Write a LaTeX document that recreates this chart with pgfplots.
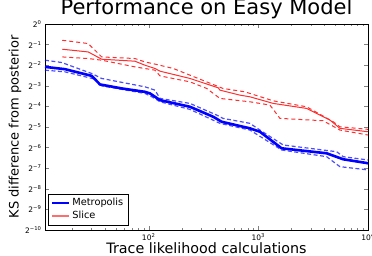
\documentclass[border=0pt]{standalone}
\usepackage{fontspec}
\setmainfont{DejaVu Sans}
\usepackage{pgfplots}
\pgfplotsset{compat=1.18}
\definecolor{sred}{RGB}{255,45,45}
\definecolor{sredl}{RGB}{255,110,110}
\begin{document}
\begin{tikzpicture}
\begin{axis}[
  scale only axis, width=323pt, height=206pt,
  xmode=log, ymode=log, log basis y=2,
  xmin=11.34, xmax=10000, ymin=0.0009765625, ymax=1,
  xtick={100,1000,10000},
  xticklabels={10\textsuperscript{2},10\textsuperscript{3},10\textsuperscript{4}},
  minor xtick={20,30,40,50,60,70,80,90,200,300,400,500,600,700,800,900,2000,3000,4000,5000,6000,7000,8000,9000},
  ytick={0.0009765625,0.001953125,0.00390625,0.0078125,0.015625,0.03125,0.0625,0.125,0.25,0.5,1},
  yticklabels={2\textsuperscript{−10},2\textsuperscript{−9},2\textsuperscript{−8},2\textsuperscript{−7},2\textsuperscript{−6},2\textsuperscript{−5},2\textsuperscript{−4},2\textsuperscript{−3},2\textsuperscript{−2},2\textsuperscript{−1},2\textsuperscript{0}},
  minor ytick={},
  tick label style={font=\fontsize{7.5}{8}\selectfont},
  axis line style={line width=0.8pt},
  major tick length=4pt, minor tick length=2pt,
  title={Performance on Easy Model},
  title style={font=\fontsize{21}{23}\selectfont, at={(axis description cs:0.5,1.0146)}, anchor=base, inner sep=0pt},
  xlabel={Trace likelihood calculations},
  xlabel style={font=\fontsize{14.3}{16}\selectfont, at={(axis description cs:0.5,-0.086)}, anchor=center, inner sep=0pt},
  ylabel={KS difference from posterior},
  ylabel style={font=\fontsize{13}{15}\selectfont, at={(axis description cs:-0.093,0.5)}, anchor=center, inner sep=0pt},
  legend style={at={(0.0093,0.024)}, anchor=south west, font=\fontsize{9.8}{11}\selectfont, inner sep=2.5pt, row sep=0pt},
  legend cell align=left,
]
% Blue dashed bounds
\addplot[blue, opacity=0.7, line width=1.2pt, dash pattern=on 4pt off 2.5pt, forget plot] coordinates {
(11.34,0.2957)(16.1,0.2738)(30.2,0.1892)(37.3,0.1600)(92.5,0.1207)(114.1,0.1080)(126.8,0.0817)(238,0.0691)(417,0.04668)(475.7,0.04178)(838.4,0.03533)(1034,0.02820)(1687,0.01705)(5173,0.01361)(5943,0.01151)(10000,0.01030)};
\addplot[blue, opacity=0.7, line width=1.2pt, dash pattern=on 4pt off 2.5pt, forget plot] coordinates {
(11.34,0.2114)(17.3,0.1997)(32.4,0.1563)(37.3,0.1248)(92.5,0.0967)(114.1,0.0817)(126.8,0.0730)(238,0.05652)(446.7,0.03533)(838.4,0.02820)(1631,0.01442)(4194,0.01151)(5544,0.00823)(10000,0.00737)};
% Blue main
\addplot[blue, line width=2.6pt] coordinates {
(11.34,0.2362)(17.3,0.2186)(30.2,0.1746)(36.0,0.1308)(56.8,0.1144)(92.5,0.1020)(102.8,0.0967)(126.8,0.0772)(238,0.0617)(388,0.04408)(463,0.03727)(838.4,0.02987)(1034,0.02664)(1631,0.01526)(4194,0.01290)(5943,0.01055)(10000,0.00923)};
\addlegendentry{Metropolis}
% Red dashed bounds
\addplot[sred, line width=1pt, dash pattern=on 4pt off 3pt, forget plot] coordinates {
(16.3,0.5787)(28.1,0.5180)(37.3,0.3303)(75.0,0.3129)(92.5,0.2793)(118.3,0.2560)(167.6,0.2238)(337.9,0.1427)(475.7,0.1144)(754.6,0.1020)(1367,0.0754)(2756,0.0617)(4818,0.03727)(5544,0.03151)(10000,0.02888)};
\addplot[sred, line width=1pt, dash pattern=on 4pt off 3pt, forget plot] coordinates {
(16.3,0.3303)(28.1,0.3129)(37.3,0.2957)(75.0,0.2362)(114.1,0.2114)(126.8,0.1746)(238,0.1427)(337.9,0.1144)(446.7,0.0817)(838.4,0.0730)(1276,0.0653)(1573,0.04178)(3905,0.03856)(5544,0.02820)(10000,0.02385)};
% Red main
\addplot[sred, line width=1pt, legend image code/.code={\draw[sredl, line width=1.3pt] (0cm,0cm) -- (0.6cm,0cm);}] coordinates {
(16.3,0.4278)(28.1,0.3907)(37.3,0.3058)(75.0,0.2860)(92.5,0.25)(102.8,0.2362)(114.1,0.2238)(126.8,0.2045)(238,0.1600)(431,0.1167)(446.7,0.1080)(679.6,0.0913)(838.4,0.0863)(1367,0.0691)(2756,0.0584)(4495,0.0395)(5544,0.02987)(10000,0.02664)};
\addlegendentry{Slice}
\end{axis}
\pgfresetboundingbox
\path ([xshift=-45pt,yshift=-26pt]current axis.south west) rectangle ([xshift=4pt,yshift=24pt]current axis.north east);
\end{tikzpicture}
\end{document}
